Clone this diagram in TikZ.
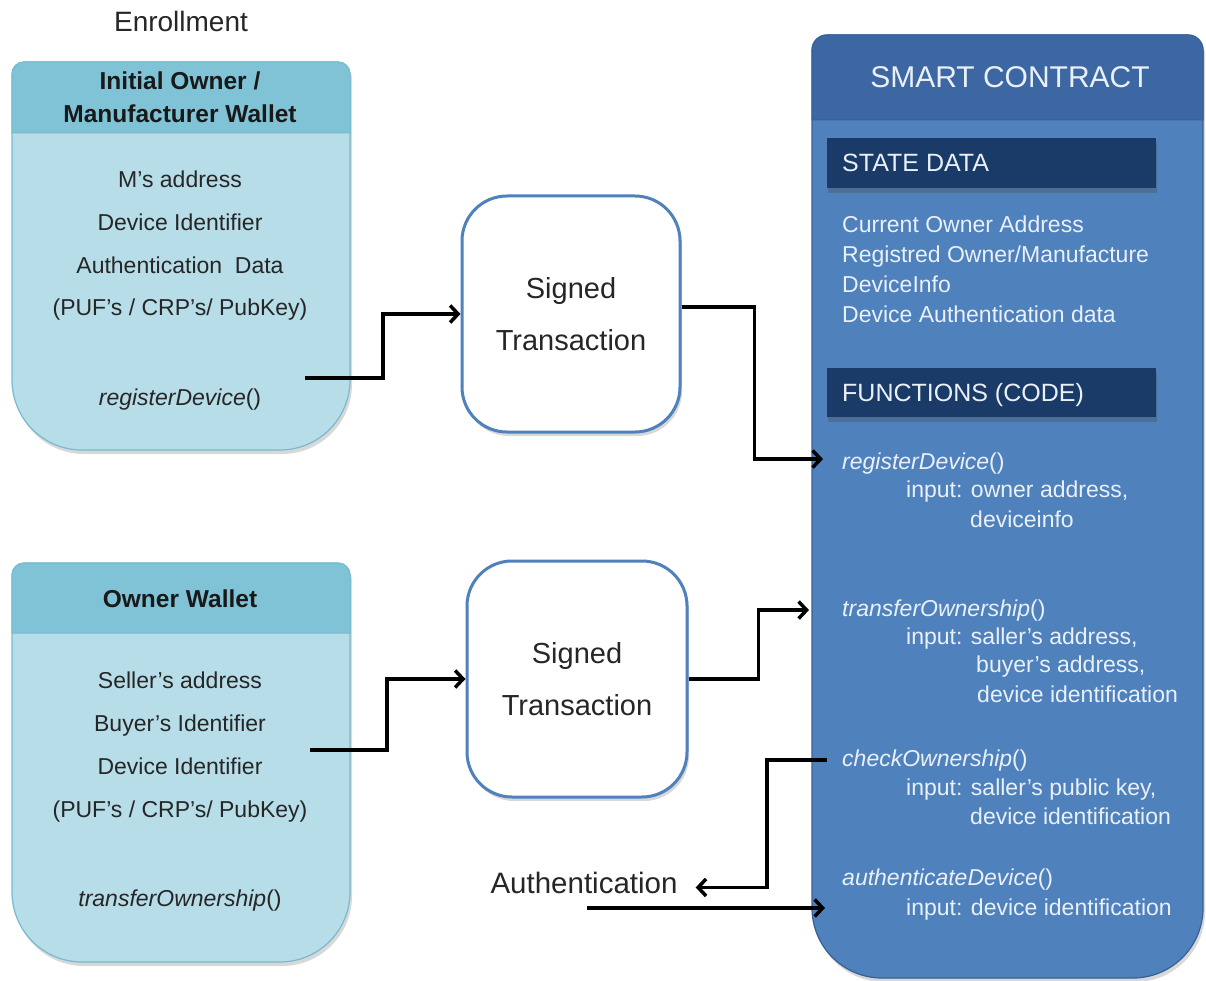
\documentclass[tikz,border=0pt]{standalone}
\usepackage{fontspec}
\setmainfont{Liberation Sans}
\usetikzlibrary{arrows.meta,shadows}

\definecolor{wbody}{RGB}{183,221,232}
\definecolor{whead}{RGB}{128,195,215}
\definecolor{wedge}{RGB}{120,186,207}
\definecolor{wtext}{RGB}{38,38,38}
\definecolor{cbody}{RGB}{79,129,189}
\definecolor{chead}{RGB}{60,103,162}
\definecolor{cedge}{RGB}{56,96,150}
\definecolor{navy}{RGB}{26,58,104}
\definecolor{ctext}{RGB}{234,240,248}
\definecolor{txedge}{RGB}{79,129,189}

\begin{document}
\begin{tikzpicture}[x=1pt,y=-1pt,
  softshadow/.style={drop shadow={shadow xshift=2pt,shadow yshift=-4pt,opacity=0.25,fill=black!60}},
  wallet/.style={fill=wbody,draw=wedge,line width=1.2pt,softshadow},
  wallethead/.style={fill=whead,draw=wedge,line width=1pt},
  contract/.style={fill=cbody,draw=cedge,line width=1.2pt,softshadow},
  contracthead/.style={fill=chead,draw=cedge,line width=1pt},
  band/.style={fill=navy,drop shadow={shadow xshift=1pt,shadow yshift=-5pt,opacity=0.35,fill=black!70}},
  txbox/.style={draw=txedge,line width=3pt,fill=white,rounded corners=45pt,
    minimum width=218pt,minimum height=236pt,align=center,text=black!85,
    font=\fontsize{29}{52}\selectfont,softshadow},
  wtxt/.style={anchor=base,inner sep=0pt,text=wtext,font=\fontsize{23}{27}\selectfont},
  whd/.style={anchor=base,inner sep=0pt,text=black!90,font=\bfseries\fontsize{24.5}{30}\selectfont},
  ctxt/.style={anchor=base west,inner sep=0pt,text=ctext,font=\fontsize{23}{27}\selectfont},
  cband/.style={anchor=base west,inner sep=0pt,text=ctext,font=\fontsize{25}{30}\selectfont},
  conn/.style={draw=black,line width=3.5pt,-{Straight Barb[length=8pt,width=17pt]}}
]
\useasboundingbox (0,0) rectangle (1206,981);
\fill[white] (0,0) rectangle (1206,981);

% ---------- enrollment wallet ----------
\path[wallet] (12,74) arc[start angle=180,end angle=270,radius=12] -- (338,62)
  arc[start angle=270,end angle=360,radius=12] -- (350,380)
  arc[start angle=0,end angle=90,radius=70] -- (82,450)
  arc[start angle=90,end angle=180,radius=70] -- cycle;
\path[wallethead] (12,74) arc[start angle=180,end angle=270,radius=12] -- (338,62)
  arc[start angle=270,end angle=360,radius=12] -- (350,133) -- (12,133) -- cycle;

\node[anchor=base,inner sep=0pt,text=black!85,font=\fontsize{28}{32}\selectfont] (enr) at (181,32) {Enrollment};
\node[whd] (w1h1) at (180,90) {Initial Owner /};
\node[whd] (w1h2) at (180,123) {Manufacturer Wallet};
\node[wtxt] (w1a) at (180,188) {M’s address};
\node[wtxt] (w1b) at (180,231) {Device Identifier};
\node[wtxt] (w1c) at (180,274) {Authentication\ \ Data};
\node[wtxt] (w1d) at (180,316) {(PUF’s / CRP’s/ PubKey)};
\node[wtxt] (w1e) at (180,405) {\textit{registerDevice}()};

% ---------- owner wallet ----------
\path[wallet] (12,575) arc[start angle=180,end angle=270,radius=12] -- (338,563)
  arc[start angle=270,end angle=360,radius=12] -- (350,892)
  arc[start angle=0,end angle=90,radius=70] -- (82,962)
  arc[start angle=90,end angle=180,radius=70] -- cycle;
\path[wallethead] (12,575) arc[start angle=180,end angle=270,radius=12] -- (338,563)
  arc[start angle=270,end angle=360,radius=12] -- (350,633) -- (12,633) -- cycle;

\node[whd] (w2h) at (180,607) {Owner Wallet};
\node[wtxt] (w2a) at (180,688) {Seller’s address};
\node[wtxt] (w2b) at (180,731) {Buyer’s Identifier};
\node[wtxt] (w2c) at (180,774) {Device Identifier};
\node[wtxt] (w2d) at (180,817) {(PUF’s / CRP’s/ PubKey)};
\node[wtxt] (w2e) at (180,906) {\textit{transferOwnership}()};

% ---------- signed transactions ----------
\node[txbox] (tx1) at (571,314) {Signed\\Transaction};
\node[txbox,minimum width=220pt] (tx2) at (577,679) {Signed\\Transaction};

% ---------- smart contract ----------
\path[contract] (812,50) arc[start angle=180,end angle=270,radius=15] -- (1188,35)
  arc[start angle=270,end angle=360,radius=15] -- (1203,908)
  arc[start angle=0,end angle=90,radius=70] -- (882,978)
  arc[start angle=90,end angle=180,radius=70] -- cycle;
\path[contracthead] (812,50) arc[start angle=180,end angle=270,radius=15] -- (1188,35)
  arc[start angle=270,end angle=360,radius=15] -- (1203,120) -- (812,120) -- cycle;
\path[band] (827,138) rectangle (1156,188);
\path[band] (827,368) rectangle (1156,417);

\node[anchor=base,inner sep=0pt,text=ctext,font=\fontsize{30}{34}\selectfont] (sc) at (1010,88) {SMART CONTRACT};
\node[cband] (sd) at (842,172) {STATE DATA};
\node[ctxt] (s1) at (842,233) {Current Owner Address};
\node[ctxt] (s2) at (842,263) {Registred Owner/Manufacture};
\node[ctxt] (s3) at (842,293) {DeviceInfo};
\node[ctxt] (s4) at (842,323) {Device Authentication data};
\node[cband] (fc) at (842,401) {FUNCTIONS (CODE)};

\node[ctxt] (f1) at (842,469) {\textit{registerDevice}()};
\node[ctxt] (f1a) at (906,497) {input: owner address,};
\node[ctxt] (f1b) at (970,527) {deviceinfo};
\node[ctxt] (f2) at (842,616) {\textit{transferOwnership}()};
\node[ctxt] (f2a) at (906,644) {input: saller’s address,};
\node[ctxt] (f2b) at (976,672) {buyer’s address,};
\node[ctxt] (f2c) at (977,702) {device identification};
\node[ctxt] (f3) at (842,766) {\textit{checkOwnership}()};
\node[ctxt] (f3a) at (906,795) {input: saller’s public key,};
\node[ctxt] (f3b) at (970,824) {device identification};
\node[ctxt] (f4) at (842,885) {\textit{authenticateDevice}()};
\node[ctxt] (f4a) at (906,915) {input: device identification};

% ---------- authentication ----------
\node[anchor=base,inner xsep=18pt,inner ysep=0pt,text=black!85,font=\fontsize{29.5}{34}\selectfont] (auth) at (584,893) {Authentication};

% ---------- connectors ----------
\coordinate (o1) at (305,378);
\coordinate (o2) at (310,750);
\coordinate (o3) at (587,908);
\draw[conn] (o1) -- ++(78,0) |- (tx1.west);
\draw[conn] ([yshift=7pt]tx1.east) -- ++(73,0) |- ([xshift=-19pt,yshift=4pt]f1.west);
\draw[conn] (o2) -- ++(77,0) |- (tx2.west);
\draw[conn] (tx2.east) -- ++(70,0) |- ([xshift=-33pt]f2.west);
\draw[conn] ([xshift=-15pt]f3.west) -- ++(-60,0) |- ([yshift=-5pt]auth.east);
\draw[conn,shorten >=17pt] (o3) -- (o3 -| f4.west);
\end{tikzpicture}
\end{document}
